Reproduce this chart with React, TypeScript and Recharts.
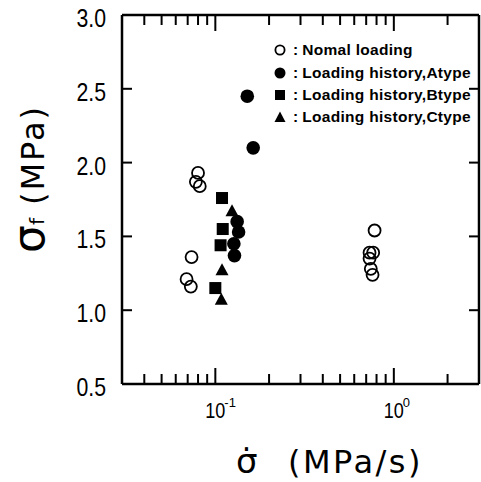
import React from 'react';
import { ScatterChart, Scatter, XAxis, YAxis, ReferenceLine, Legend } from 'recharts';

const W = 481;
const H = 482;
const PLOT_TOP = 15;
const PLOT_RIGHT = 479;

// ---- data ----
const normalX = [0.080, 0.0778, 0.0818, 0.0736, 0.069, 0.0729, 0.78, 0.731, 0.766, 0.731, 0.743, 0.76];
const normalY = [1.93, 1.87, 1.84, 1.36, 1.21, 1.16, 1.54, 1.39, 1.39, 1.35, 1.28, 1.24];

const aTypeX = [0.151, 0.163, 0.1325, 0.135, 0.127, 0.128];
const aTypeY = [2.45, 2.10, 1.60, 1.53, 1.45, 1.37];

const bTypeX = [0.109, 0.110, 0.107, 0.100];
const bTypeY = [1.76, 1.55, 1.44, 1.15];

const cTypeX = [0.124, 0.109, 0.108];
const cTypeY = [1.67, 1.27, 1.07];

const seriesNames = [
  'Nomal loading',
  'Loading history,Atype',
  'Loading history,Btype',
  'Loading history,Ctype',
];

const xTicks = [0.04, 0.05, 0.06, 0.07, 0.08, 0.09, 0.1, 0.2, 0.3, 0.4, 0.5, 0.6, 0.7, 0.8, 0.9, 1, 2];
const xMajorTicks = [0.1, 1];
const xMajorExponents = ['-1', '0'];
const yTicks = [0.5, 1.0, 1.5, 2.0, 2.5, 3.0];
const yTickLabels = ['0.5', '1.0', '1.5', '2.0', '2.5', '3.0'];

const zip = (xs: number[], ys: number[]) => xs.map((x, i) => ({ x, y: ys[i] }));
const normalData = zip(normalX, normalY);
const aData = zip(aTypeX, aTypeY);
const bData = zip(bTypeX, bTypeY);
const cData = zip(cTypeX, cTypeY);

const NUM_FONT = 'Liberation Sans, Arial, sans-serif';
const LABEL_FONT = 'DejaVu Sans, sans-serif';

// ---- marks ----
const OpenCircle = (p: any) => (
  <circle cx={p.cx} cy={p.cy} r={6} fill="none" stroke="#000" strokeWidth={1.8} />
);
const FilledCircle = (p: any) => <circle cx={p.cx} cy={p.cy} r={6.8} fill="#000" />;
const FilledSquare = (p: any) => (
  <rect x={p.cx - 6} y={p.cy - 6} width={12} height={12} fill="#000" />
);
const FilledTriangle = (p: any) => (
  <polygon
    points={`${p.cx},${p.cy - 7} ${p.cx + 6.5},${p.cy + 5} ${p.cx - 6.5},${p.cy + 5}`}
    fill="#000"
  />
);

// ---- ticks ----
const XTick = (props: any) => {
  const { x, y, payload } = props;
  const v = payload.value;
  const idx = xMajorTicks.indexOf(v);
  const major = idx >= 0;
  const len = major ? 16 : 10;
  return (
    <g>
      <line x1={x} x2={x} y1={y} y2={y - len} stroke="#000" strokeWidth={2} />
      <line x1={x} x2={x} y1={PLOT_TOP} y2={PLOT_TOP + len} stroke="#000" strokeWidth={2} />
      {major && (
        <g fill="#000" fontFamily={NUM_FONT}>
          <text transform={`translate(${x},${y + 34}) scale(0.82,1)`} textAnchor="middle" fontSize={22}>
            10
          </text>
          <text x={x + 9} y={y + 23} fontSize={13}>
            {xMajorExponents[idx]}
          </text>
        </g>
      )}
    </g>
  );
};

const YTick = (props: any) => {
  const { x, y, payload } = props;
  const v = payload.value;
  const idx = yTicks.indexOf(v);
  const inner = v > 0.5 && v < 3;
  return (
    <g>
      {inner && <line x1={x} x2={x + 10} y1={y} y2={y} stroke="#000" strokeWidth={2} />}
      {inner && (
        <line x1={PLOT_RIGHT} x2={PLOT_RIGHT - 10} y1={y} y2={y} stroke="#000" strokeWidth={2} />
      )}
      <text
        transform={`translate(${x - 16},${y + 12}) scale(0.85,1)`}
        textAnchor="end"
        fontSize={25}
        fontFamily={NUM_FONT}
        fill="#000"
      >
        {yTickLabels[idx]}
      </text>
    </g>
  );
};

// ---- axis titles ----
const YTitle = () => (
  <text transform="translate(44,253) rotate(-90)" fontFamily={LABEL_FONT} fill="#000">
    <tspan fontSize={44}>σ</tspan>
    <tspan fontSize={20}>f</tspan>
    <tspan x={48} fontSize={32} letterSpacing={2}>
      (MPa)
    </tspan>
  </text>
);

const XTitle = () => (
  <text y={473} fontFamily={LABEL_FONT} fill="#000">
    <tspan x={236} fontSize={34}>σ̇</tspan>
    <tspan x={288} fontSize={32} letterSpacing={2.5}>
      (MPa/s)
    </tspan>
  </text>
);

// ---- legend ----
const LegendIcon = ({ i }: { i: number }) => (
  <svg width={16} height={16} style={{ display: 'block' }}>
    {i === 0 && <circle cx={8} cy={8} r={4.6} fill="none" stroke="#000" strokeWidth={1.8} />}
    {i === 1 && <circle cx={8} cy={8} r={5.5} fill="#000" />}
    {i === 2 && <rect x={3} y={3} width={10} height={10} fill="#000" />}
    {i === 3 && <polygon points="8,2.5 13.5,13 2.5,13" fill="#000" />}
  </svg>
);

const renderLegend = () => (
  <div style={{ fontFamily: NUM_FONT, fontWeight: 'bold', fontSize: 15.5, color: '#000' }}>
    {seriesNames.map((name, i) => (
      <div key={name} style={{ display: 'flex', alignItems: 'center', height: 22.4, whiteSpace: 'nowrap' }}>
        <LegendIcon i={i} />
        <span style={{ marginLeft: 5, marginRight: 4 }}>:</span>
        <span style={{ letterSpacing: 0.3 }}>{name}</span>
      </div>
    ))}
  </div>
);

export default function App() {
  return (
    <div style={{ position: 'absolute', left: 0, top: 0, background: '#fff' }}>
      <ScatterChart width={W} height={H} margin={{ top: PLOT_TOP, right: W - PLOT_RIGHT, left: 0, bottom: 0 }}>
        <XAxis
          type="number"
          dataKey="x"
          scale="log"
          domain={[0.03, 3]}
          allowDataOverflow
          ticks={xTicks}
          interval={0}
          tick={<XTick />}
          tickLine={false}
          tickSize={0}
          tickMargin={0}
          height={98}
          axisLine={{ stroke: '#000', strokeWidth: 2.5 }}
          label={<XTitle />}
        />
        <YAxis
          type="number"
          dataKey="y"
          domain={[0.5, 3]}
          allowDataOverflow
          ticks={yTicks}
          interval={0}
          tick={<YTick />}
          tickLine={false}
          tickSize={0}
          tickMargin={0}
          width={122}
          axisLine={{ stroke: '#000', strokeWidth: 2.5 }}
          label={<YTitle />}
        />
        <ReferenceLine y={3} stroke="#000" strokeWidth={2.5} />
        <ReferenceLine x={3} stroke="#000" strokeWidth={2.5} />
        <Legend
          layout="vertical"
          align="center"
          verticalAlign="middle"
          content={renderLegend}
          wrapperStyle={{ left: 272, top: 39, width: 205 }}
        />
        <Scatter name={seriesNames[0]} data={normalData} shape={OpenCircle} isAnimationActive={false} />
        <Scatter name={seriesNames[1]} data={aData} shape={FilledCircle} isAnimationActive={false} />
        <Scatter name={seriesNames[2]} data={bData} shape={FilledSquare} isAnimationActive={false} />
        <Scatter name={seriesNames[3]} data={cData} shape={FilledTriangle} isAnimationActive={false} />
      </ScatterChart>
    </div>
  );
}
